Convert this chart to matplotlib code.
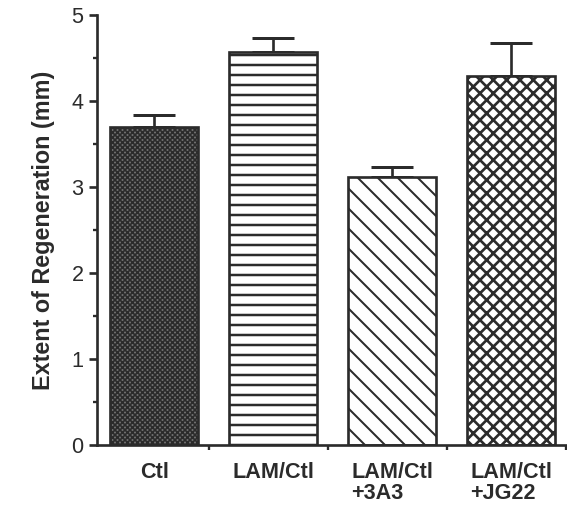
import numpy as np
import matplotlib
matplotlib.use('Agg')
import matplotlib.pyplot as plt
from matplotlib.ticker import MultipleLocator

plt.rcParams['font.family'] = ['Liberation Sans', 'DejaVu Sans']

# data
groups = ['Ctl', 'LAM/Ctl', 'LAM/Ctl\n+3A3', 'LAM/Ctl\n+JG22']
extent = [3.70, 4.57, 3.12, 4.29]   # mm
sem = [0.14, 0.16, 0.11, 0.38]
hatches = ['xxxxxxxx', '--', '\\\\', 'xxx']
hatch_lw = [1.0, 1.5, 1.2, 1.6]
faces = ['#707070', 'white', 'white', 'white']

ink = '#2b2b2b'
x = np.arange(len(groups))

fig = plt.figure(figsize=(567 / 120, 508 / 120), dpi=120)
ax = fig.add_axes([97 / 567, 1 - 445 / 508, (566 - 97) / 567, (445 - 15) / 508])

for i in range(len(groups)):
    with plt.rc_context({'hatch.linewidth': hatch_lw[i]}):
        b = ax.bar(x[i], extent[i], width=0.74, color=faces[i], edgecolor=ink,
                   linewidth=1.6, hatch=hatches[i], zorder=2)
        if hasattr(b[0], 'set_hatch_linewidth'):
            b[0].set_hatch_linewidth(hatch_lw[i])
ax.errorbar(x, extent, yerr=[np.zeros(len(sem)), sem], fmt='none', ecolor=ink,
            elinewidth=1.6, capsize=12.5, capthick=1.8, zorder=1)

ax.set_xlim(-0.482, 3.43)
ax.set_ylim(0, 5)

for s in ['top', 'right']:
    ax.spines[s].set_visible(False)
for s in ['left', 'bottom']:
    ax.spines[s].set_linewidth(1.6)
    ax.spines[s].set_color(ink)

ax.yaxis.set_major_locator(MultipleLocator(1))
ax.yaxis.set_minor_locator(MultipleLocator(0.5))
ax.tick_params(axis='y', which='major', length=5, width=1.6, color=ink,
               labelsize=13, labelcolor=ink, pad=3)
ax.tick_params(axis='y', which='minor', length=2.5, width=1.4, color=ink)

ax.set_xticks(x)
ax.set_xticklabels(groups, fontweight='bold', fontsize=13, color=ink,
                   multialignment='left', linespacing=1.0)
ax.set_xticks(x + 0.46, minor=True)
ax.tick_params(axis='x', which='major', length=0, pad=10)
ax.tick_params(axis='x', which='minor', length=3, width=1.4, color=ink)

ax.set_ylabel('Extent of Regeneration (mm)', fontsize=14, fontweight='bold',
              color=ink, labelpad=10)

fig.savefig('out.png', dpi=120)
